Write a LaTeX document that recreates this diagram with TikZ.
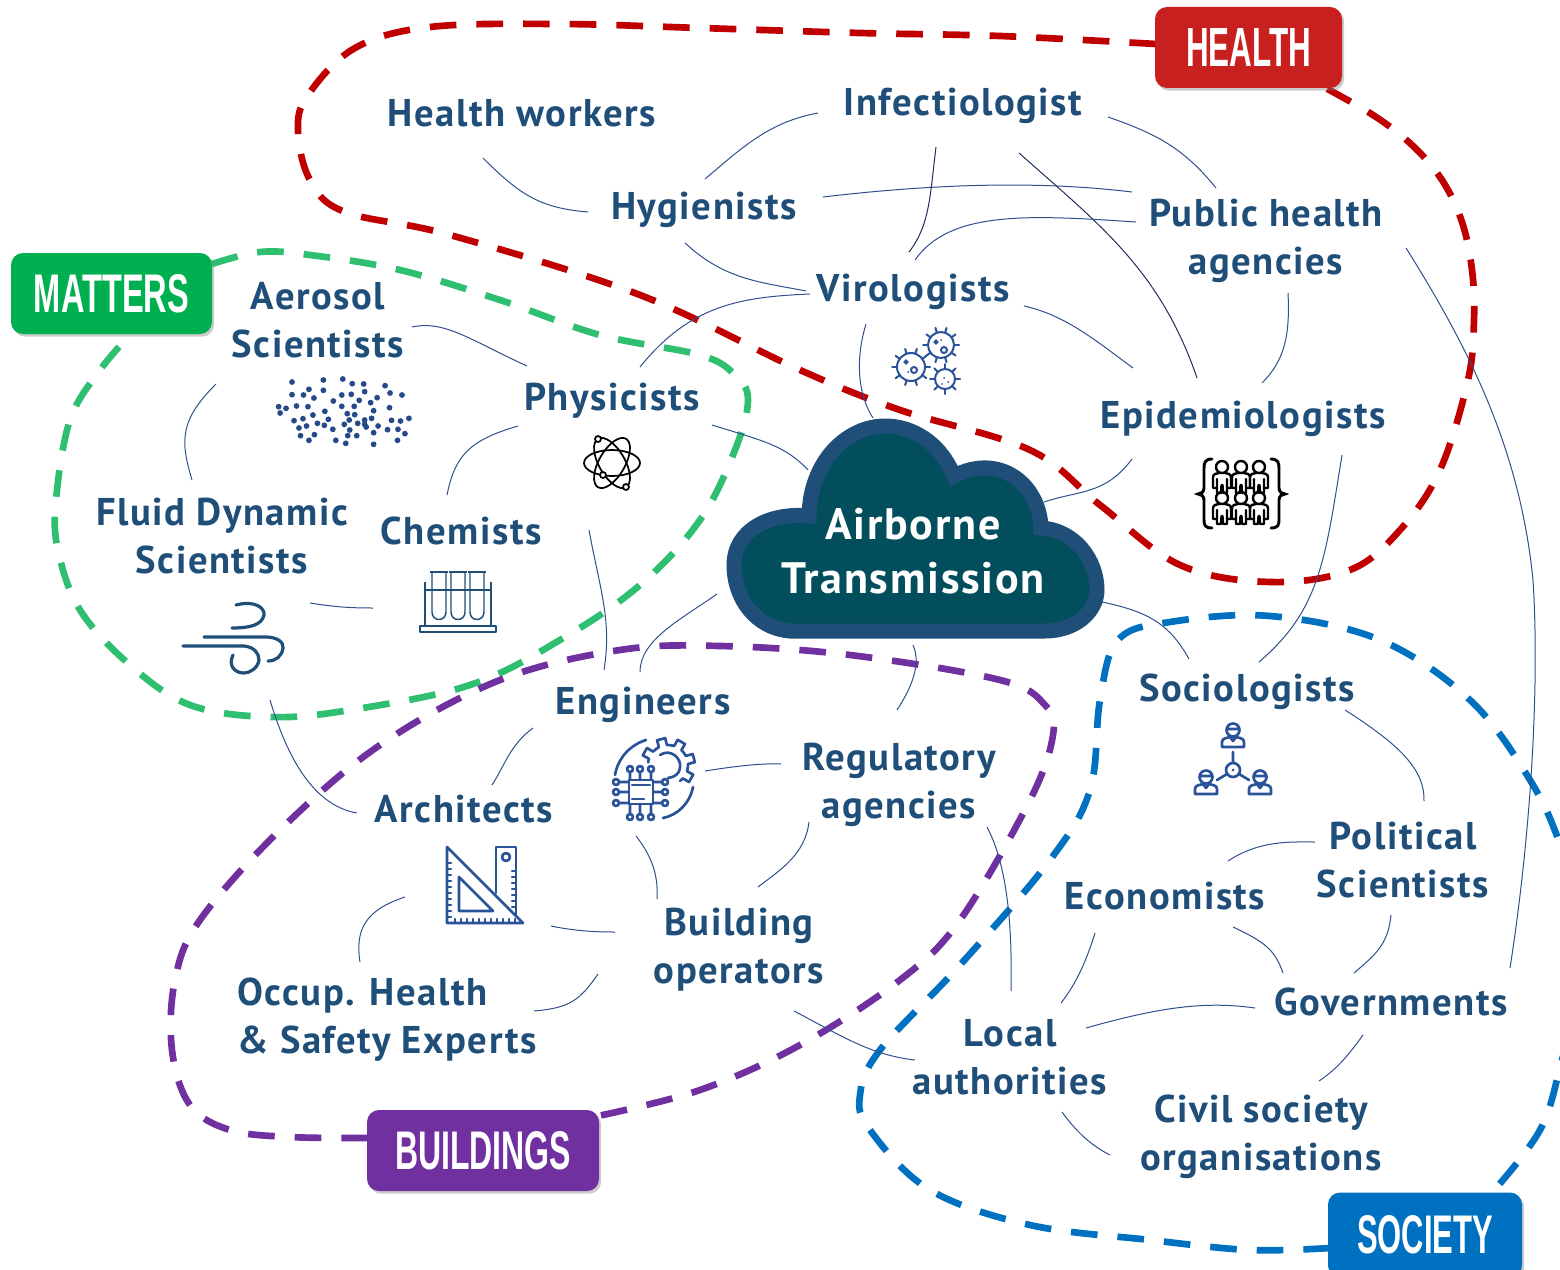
\documentclass[tikz,border=0pt]{standalone}
\usepackage{fontspec}
\usepackage{graphicx}
\usetikzlibrary{calc,shadows}
\newfontfamily\din[LetterSpace=4,BoldFont={* Bold}]{PT Sans}
\newfontfamily\tagfont{Liberation Sans}
\definecolor{txt}{HTML}{1F4E79}
\definecolor{lnkc}{HTML}{2F4F8F}
\definecolor{lnkd}{HTML}{1F2F55}
\definecolor{icon}{HTML}{2A5298}
\definecolor{cred}{HTML}{C00000}
\definecolor{cgreen}{HTML}{2FBF71}
\definecolor{cpurple}{HTML}{7030A0}
\definecolor{cblue}{HTML}{0070C0}
\definecolor{cloudin}{HTML}{024E5C}
\definecolor{tagred}{HTML}{C8201E}
\definecolor{taggreen}{HTML}{00B050}
\newlength\pxu \setlength\pxu{.75pt}
\newcommand\tagtext[3]{\resizebox{#2\pxu}{#3\pxu}{\tagfont\bfseries #1}}
\tikzset{
 lab/.style={text=txt,inner sep=0pt,align=center,font=\din\bfseries\fontsize{29}{36}\selectfont},
 labone/.style={lab,text height=22pt,text depth=3.5pt},
 link/.style={draw=lnkc,line width=.75pt},
 linkd/.style={draw=lnkd,line width=.75pt},
 loopline/.style={line width=5pt,dash pattern=on 20pt off 15pt},
 tagbox/.style={inner sep=0pt,rounded corners=9pt,minimum height=60.75pt,drop shadow={opacity=.4,shadow xshift=1.6pt,shadow yshift=-2pt}},
 ic/.style={draw=icon,line width=2pt,line cap=round,line join=round},
 people/.pic={
  \draw[black,line width=1.8pt,line join=round,line cap=round] (0,-9) circle (6)
   (-5,3) -- (-5,17) -- (-1,17) -- (-0.5,9) -- (0.5,9) -- (1,17) -- (5,17) -- (5,3)
   (-9,12) -- (-9,1) .. controls (-9,-2) and (-5,-3) .. (-3,-3) -- (3,-3) .. controls (5,-3) and (9,-2) .. (9,1) -- (9,12) -- (6,12)
   (-9,12) -- (-6,12);
 },
 soci/.pic={
  \draw[ic] (0,-6) circle (6.5) (-6,-7) -- (6,-7)
   (-11,11) -- (-11,6) .. controls (-11,2) and (-6,2) .. (-3,1) -- (0,5) -- (3,1) .. controls (6,2) and (11,2) .. (11,6) -- (11,11) -- cycle;
 },
}
\begin{document}
\begin{tikzpicture}[x=.75pt,y=-.75pt]
\useasboundingbox (0,0) rectangle (1560,1270);
\clip (0,0) rectangle (1560,1270);

% loop ends
\coordinate (hl) at (1156,44); \coordinate (hr) at (1320,85);
\coordinate (ml) at (212,264); \coordinate (mr) at (130,335);
\coordinate (bl) at (368,1138); \coordinate (br) at (598,1116);
\coordinate (sl) at (1330,1248); \coordinate (sr) at (1490,1195);

\draw[cred,loopline] plot[smooth,tension=.6] coordinates {(hl) (1000,36) (860,33) (700,28) (560,24) (430,27) (355,48) (308,95) (298,130) (310,180) (345,212) (450,235) (640,295) (800,370) (900,410) (1030,450) (1100,505) (1180,565) (1270,582) (1350,570) (1400,530) (1440,470) (1468,380) (1474,320) (1472,270) (1462,222) (1442,180) (1412,145) (1373,115) (hr)};
\draw[cgreen,loopline] plot[smooth,tension=.6] coordinates {(ml) (260,252) (310,255) (400,270) (500,300) (600,335) (700,355) (735,375) (748,400) (735,450) (700,520) (640,585) (560,640) (470,685) (350,710) (270,717) (190,705) (130,665) (80,610) (58,550) (56,500) (70,420) (100,370) (mr)};
\draw[cpurple,loopline] plot[smooth,tension=.6] coordinates {(bl) (290,1137) (230,1130) (190,1105) (172,1050) (175,980) (200,920) (280,830) (380,745) (500,680) (620,650) (720,646) (850,655) (1000,680) (1045,705) (1053,735) (1030,800) (960,920) (900,980) (800,1045) (700,1090) (br)};
\draw[cblue,loopline] plot[smooth,tension=.6] coordinates {(sl) (1250,1250) (1150,1240) (1030,1225) (930,1190) (870,1130) (860,1095) (880,1050) (960,965) (1050,860) (1090,790) (1100,700) (1118,640) (1170,622) (1270,616) (1380,640) (1470,700) (1530,780) (1562,850) (1590,950) (1562,1060) (1540,1130) (sr)};

% cloud
\draw[fill=cloudin,draw=txt,line width=11.25pt,line join=miter]
 (790,631) .. controls (755,628) and (734,598) .. (734,565) .. controls (734,530) and (770,512) .. (809,516)
 .. controls (810,460) and (848,426) .. (885,426) .. controls (912,426) and (940,442) .. (954,476)
 .. controls (1000,452) and (1040,485) .. (1041,528)
 .. controls (1075,530) and (1097,560) .. (1097,590) .. controls (1097,612) and (1075,631) .. (1045,631) -- cycle;
\node[lab,text=white,font=\din\bfseries\fontsize{33}{40}\selectfont] (cloud) at (913,551) {Airborne\\Transmission};

% text nodes
\node[labone] (hw) at (522,114) {Health workers};
\node[labone] (inf) at (963,103) {Infectiologist};
\node[labone] (hyg) at (704,207) {Hygienists};
\node[lab] (pha) at (1266,241) {Public health\\agencies};
\node[labone] (viro) at (913,289) {Virologists};
\node[lab] (aero) at (318,320) {Aerosol\\Scientists};
\node[labone] (phys) at (612,398) {Physicists};
\node[labone] (epi) at (1243,416) {Epidemiologists};
\node[lab] (fluid) at (222,536) {Fluid Dynamic\\Scientists};
\node[labone] (chem) at (461,532) {Chemists};
\node[labone] (eng) at (643,702) {Engineers};
\node[labone] (soc) at (1247,689) {Sociologists};
\node[lab] (reg) at (899,785) {Regulatory\\agencies};
\node[labone] (arch) at (464,810) {Architects};
\node[lab] (pol) at (1403,860) {Political\\Scientists};
\node[labone] (econ) at (1165,897) {Economists};
\node[lab] (bop) at (739,950) {Building\\operators};
\node[labone] (gov) at (1391,1003) {Governments};
\node[lab,align=left] (occ) at (387,1020) {Occup. Health\\\& Safety Experts};
\node[lab] (local) at (1010,1057) {Local\\authorities};
\node[lab] (civil) at (1261,1137) {Civil society\\organisations};

% connectors
\draw[link] ($(hw)+(-39,44)$) .. controls (520,195) and (540,208) .. ($(hyg)+(-116,5)$);
\draw[link] ($(inf)+(-145,10)$) .. controls (770,122) and (745,145) .. ($(hyg)+(1,-28)$);
\draw[link] ($(hyg)+(119,-10)$) .. controls (950,182) and (1050,182) .. ($(pha)+(-134,-49)$);
\draw[link] ($(inf)+(145,14)$) .. controls (1160,135) and (1185,150) .. ($(pha)+(-50,-53)$);
\draw[linkd] ($(inf)+(-27,44)$) .. controls (930,195) and (930,225) .. ($(viro)+(-4,-37)$);
\draw[linkd] ($(inf)+(56,50)$) .. controls (1100,225) and (1160,270) .. ($(epi)+(-46,-38)$);
\draw[link] ($(pha)+(-130,-19)$) .. controls (1030,215) and (950,210) .. ($(viro)+(2,-29)$);
\draw[link] ($(hyg)+(-19,36)$) .. controls (725,280) and (760,282) .. ($(viro)+(-107,2)$);
\draw[link] ($(viro)+(-103,5)$) .. controls (740,297) and (690,305) .. ($(phys)+(28,-31)$);
\draw[link] ($(viro)+(-47,35)$) .. controls (855,360) and (858,395) .. ($(cloud)+(-40,-133)$);
\draw[link] ($(viro)+(111,17)$) .. controls (1065,315) and (1095,340) .. ($(epi)+(-110,-48)$);
\draw[link] ($(pha)+(22,52)$) .. controls (1290,335) and (1285,360) .. ($(epi)+(19,-33)$);
\draw[link] ($(epi)+(-111,43)$) .. controls (1105,495) and (1080,490) .. ($(cloud)+(131,-49)$);
\draw[link] ($(aero)+(94,7)$) .. controls (445,320) and (470,340) .. ($(phys)+(-85,-32)$);
\draw[link] ($(aero)+(-102,64)$) .. controls (180,420) and (180,440) .. ($(fluid)+(-30,-56)$);
\draw[link] ($(phys)+(-94,28)$) .. controls (470,440) and (455,455) .. ($(chem)+(-14,-37)$);
\draw[link] ($(phys)+(100,27)$) .. controls (760,440) and (785,445) .. ($(cloud)+(-105,-81)$);
\draw[link] ($(fluid)+(88,67)$) .. controls (335,607) and (350,608) .. ($(chem)+(-88,76)$);
\draw[link] ($(chem)+(128,-2)$) .. controls (600,590) and (612,620) .. ($(eng)+(-39,-32)$);
\draw[link] ($(fluid)+(48,164)$) .. controls (285,750) and (310,805) .. ($(arch)+(-107,3)$);
\draw[link] ($(cloud)+(-196,43)$) .. controls (680,620) and (640,640) .. ($(eng)+(-3,-30)$);
\draw[link] ($(cloud)+(0,94)$) .. controls (922,665) and (910,690) .. ($(reg)+(-2,-75)$);
\draw[link] ($(eng)+(-110,26)$) .. controls (510,745) and (505,765) .. ($(arch)+(28,-25)$);
\draw[link] ($(eng)+(62,69)$) .. controls (730,767) and (760,763) .. ($(reg)+(-118,-21)$);
\draw[link] ($(eng)+(-7,134)$) .. controls (655,860) and (658,880) .. ($(bop)+(-82,-51)$);
\draw[link] ($(reg)+(-90,37)$) .. controls (805,855) and (780,870) .. ($(bop)+(19,-63)$);
\draw[link] ($(arch)+(-59,87)$) .. controls (365,910) and (355,930) .. ($(occ)+(-27,-58)$);
\draw[link] ($(arch)+(87,116)$) .. controls (575,931) and (595,932) .. ($(bop)+(-124,-18)$);
\draw[link] ($(occ)+(147,-9)$) .. controls (570,1008) and (580,1000) .. ($(bop)+(-141,24)$);
\draw[link] ($(reg)+(88,42)$) .. controls (1010,870) and (1012,940) .. ($(local)+(1,-66)$);
\draw[link] ($(bop)+(55,61)$) .. controls (840,1035) and (870,1055) .. ($(local)+(-95,3)$);
\draw[link] ($(cloud)+(189,51)$) .. controls (1150,612) and (1170,625) .. ($(soc)+(-58,-30)$);
\draw[link] ($(epi)+(99,39)$) .. controls (1325,560) and (1320,610) .. ($(soc)+(12,-27)$);
\draw[link] ($(soc)+(98,21)$) .. controls (1400,745) and (1425,770) .. ($(pol)+(21,-59)$);
\draw[link] ($(econ)+(63,-36)$) .. controls (1260,840) and (1290,842) .. ($(pol)+(-88,-18)$);
\draw[link] ($(econ)+(68,30)$) .. controls (1265,942) and (1275,950) .. ($(gov)+(-108,-30)$);
\draw[link] ($(econ)+(-70,36)$) .. controls (1085,965) and (1075,985) .. ($(local)+(51,-54)$);
\draw[link] ($(pol)+(-12,55)$) .. controls (1388,945) and (1375,955) .. ($(gov)+(-37,-30)$);
\draw[link] ($(local)+(76,-29)$) .. controls (1150,1010) and (1200,1000) .. ($(gov)+(-136,5)$);
\draw[link] ($(gov)+(-28,32)$) .. controls (1345,1060) and (1335,1070) .. ($(civil)+(58,-56)$);
\draw[link] ($(local)+(52,55)$) .. controls (1075,1130) and (1090,1145) .. ($(civil)+(-151,18)$);
\draw[link] ($(pha)+(140,7)$) .. controls (1470,350) and (1520,450) .. (1533,580) .. controls (1540,690) and (1530,840) .. ($(gov)+(119,-35)$);

% tag boxes
\node[tagbox,fill=tagred,minimum width=140.25pt] (health) at (1248.5,47.5) {\color{white}\raisebox{-1.5pt}{\tagtext{HEALTH}{125}{38}}};
\node[tagbox,fill=taggreen,minimum width=150.75pt] (matters) at (111.5,293.5) {\color{white}\raisebox{-.75pt}{\tagtext{MATTERS}{155}{38}}};
\node[tagbox,fill=cpurple,minimum width=174pt] (buildings) at (483,1150.5) {\color{white}\raisebox{-1.5pt}{\tagtext{BUILDINGS}{176}{38}}};
\node[tagbox,fill=cblue,minimum width=145.5pt,minimum height=63.75pt] (society) at (1425,1235) {\color{white}\tagtext{SOCIETY}{136}{38}};

% aerosol dots
\foreach \a/\b in {587/426,650/420,689/417,708/431,731/432,774/437,621/448,650/451,733/455,587/464,610/465,687/465,706/463,631/474,758/473,784/459,808/465,670/483,722/481,745/488,560/500,575/505,596/498,619/500,687/499,712/499,783/503,563/519,653/514,751/512,698/521,713/524,629/525,591/542,609/536,660/538,702/540,733/540,747/535,787/541,805/543,822/535,638/550,652/556,692/553,719/550,760/558,616/558,601/564,736/561,669/568,703/570,751/578,779/569,800/568,814/581,632/584,604/587,699/587,717/587,621/601,675/601,695/610,751/613,799/601,733/553}
 \fill[icon!90!black] ({\a*.4975},{240+\b/3}) circle (2.9);

% atom
\begin{scope}[shift={(612,463)},black,line width=1.3pt]
 \foreach \r in {0,60,-60} \draw[rotate=\r] (0,0) ellipse (28 and 13);
 \draw[fill=white] (-14,-24) circle (3) (14,24) circle (3) (-9,12) circle (3);
\end{scope}

% virus
\begin{scope}[icon,line width=1.5pt,line cap=round]
 \foreach \cx/\cy/\rr/\n in {941/345/13/36,911/367/14/36,945/379/10/45} {
  \draw (\cx,\cy) circle (\rr);
  \foreach \t in {0,\n,...,359} \draw ($(\cx,\cy)+(\t:\rr)$) -- ($(\cx,\cy)+(\t:\rr+5)$);
 }
 \draw (944,350) circle (3) (936,342) circle (1.5) (914,370) circle (3) (906,362) circle (1.5);
 \fill (944,378) circle (1) (948,382) circle (1) (942,384) circle (1) (941,340) circle (1) (908,372) circle (1);
\end{scope}

% people
\foreach \px in {1222,1241,1259} {
 \pic at (\px,476) {people};
 \pic at (\px,507) {people};
}
\draw[black,line width=2.2pt,line cap=round]
 (1212,459) .. controls (1205,459) and (1204,463) .. (1204,468) -- (1204,488) .. controls (1204,492) and (1201,494) .. (1198,494) .. controls (1201,494) and (1204,496) .. (1204,500) -- (1204,520) .. controls (1204,525) and (1205,528) .. (1212,528)
 (1271,459) .. controls (1278,459) and (1279,463) .. (1279,468) -- (1279,488) .. controls (1279,492) and (1282,494) .. (1285,494) .. controls (1282,494) and (1279,496) .. (1279,500) -- (1279,520) .. controls (1279,525) and (1278,528) .. (1271,528);

% test tubes
\begin{scope}[txt,line width=1.1pt,line join=round]
 \draw (420,626) rectangle (496,632);
 \draw (425,626) -- (425,582) (491,626) -- (491,582) (425,590) -- (491,590);
 \foreach \tx in {439,458,477} {
  \draw (\tx-7,612) -- (\tx-7,572) (\tx+7,572) -- (\tx+7,612) .. controls (\tx+7,622) and (\tx-7,622) .. (\tx-7,612);
  \draw (\tx-9,572) -- (\tx+9,572);
 }
\end{scope}

% wind
\draw[txt,line width=2.4pt,line cap=round]
 (236,605) .. controls (255,600) and (265,608) .. (264,615) .. controls (262,625) and (250,628) .. (232,628)
 (204,637) -- (266,637) .. controls (278,637) and (284,643) .. (283,648) .. controls (282,656) and (276,661) .. (268,661)
 (183,646) -- (244,646) .. controls (254,647) and (259,653) .. (259,660) .. controls (258,668) and (250,673) .. (244,673) .. controls (234,673) and (228,665) .. (233,655);

% engineering icon
\begin{scope}[ic]
 \draw (629,780) rectangle (653,804);
 \draw (632,785) -- (650,785) (632,799) -- (644,799);
 \foreach \p in {630,640,651} {
  \draw (\p,769) circle (3) (\p,772) -- (\p,780) (\p,817) circle (3) (\p,804) -- (\p,814);
 }
 \foreach \p in {782,792,803} {
  \draw (616,\p) circle (3) (619,\p) -- (629,\p) (665,\p) circle (3) (653,\p) -- (662,\p);
 }
 \draw (646,740) .. controls (630,745) and (618,758) .. (615,775);
 \draw (693,787) .. controls (690,803) and (678,815) .. (663,818);
 \foreach \t in {210,255,300,345,390} {
  \draw ($(668,765)+(\t-22.5:20)$) -- ($(668,765)+(\t-12:20)$) -- ($(668,765)+(\t-9:27)$) -- ($(668,765)+(\t+9:27)$) -- ($(668,765)+(\t+12:20)$) -- ($(668,765)+(\t+22.5:20)$);
 }
 \draw (660,755) .. controls (670,748) and (682,758) .. (680,768) .. controls (679,774) and (675,777) .. (668,778);
\end{scope}

% ruler
\begin{scope}[ic,line width=2pt]
 \draw (447,847) -- (447,923) -- (523,923) -- cycle;
 \draw (459,877) -- (459,911) -- (493,911) -- cycle;
 \draw (496,893) -- (496,847) -- (516,847) -- (516,915);
 \draw (506,857) circle (4);
 \foreach \k in {0,6,...,60} \draw (447,{863+\k}) -- (451,{863+\k});
 \foreach \k in {0,6,...,60} \draw ({455+\k},923) -- ({455+\k},919);
 \foreach \k in {0,6,...,36} \draw (516,{871+\k}) -- (512,{871+\k});
\end{scope}

% sociology icon
\pic at (1233,736) {soci};
\pic at (1206,783) {soci};
\pic at (1260,783) {soci};
\draw[ic] (1233,770) circle (7) (1233,752) -- (1233,763) (1227,774) -- (1217,780) (1239,774) -- (1249,780);
\fill[icon] (1233,770) circle (1.5);
\end{tikzpicture}
\end{document}
